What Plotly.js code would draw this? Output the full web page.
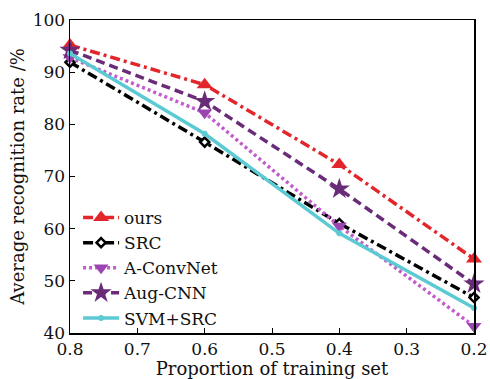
<!DOCTYPE html>
<html><head><meta charset="utf-8">
<script src="https://cdn.plot.ly/plotly-3.0.1.min.js"></script>
<style>body{margin:0;padding:0;background:#fff}#chart{width:490px;height:379px}</style>
</head><body><div id="chart"></div>
<script>
const xVals = [0.8, 0.6, 0.4, 0.2];
const seriesNames = ["ours", "SRC", "A-ConvNet", "Aug-CNN", "SVM+SRC"];
const ours = [95.2, 87.6, 72.3, 54.2];
const src = [91.9, 76.6, 61.0, 46.8];
const aconvnet = [92.8, 82.2, 60.5, 41.3];
const augcnn = [94.2, 84.4, 67.6, 49.4];
const svmsrc = [93.6, 78.2, 59.1, 44.8];
const xTicks = [0.8, 0.7, 0.6, 0.5, 0.4, 0.3, 0.2];
const yTicks = [40, 50, 60, 70, 80, 90, 100];

const styles = [
  {color:'#e3262b', dash:'10px,4px,3px,4px', width:3.5, symbol:'triangle-up', size:14, lcolor:'#e3262b'},
  {color:'#000000', dash:'10px,4px,3px,4px', width:3.5, symbol:'diamond', size:7, lcolor:'#000000'},
  {color:'#c25ccc', dash:'3px,3px', width:3.5, symbol:'triangle-down', size:13, lcolor:'#9b45b0'},
  {color:'#6a2c78', dash:'9px,5px', width:3.5, symbol:'star', size:16, lcolor:'#6a2c78'},
  {color:'#5ccad3', dash:'solid', width:3.5, symbol:'circle', size:6, lcolor:'#5ccad3'}
];
const data = [ours, src, aconvnet, augcnn, svmsrc];
const traces = data.map((y, i) => ({
  x: xVals, y: y, name: seriesNames[i], type: 'scatter', mode: 'lines+markers', cliponaxis: false,
  line: {color: styles[i].color, dash: styles[i].dash, width: styles[i].width},
  marker: {symbol: styles[i].symbol, size: styles[i].size,
    color: i === 1 ? '#ffffff' : styles[i].lcolor,
    line: {color: styles[i].lcolor, width: i === 1 ? 2.5 : 0}}
}));
const fam = 'DejaVu Serif, Liberation Serif, serif';
Plotly.newPlot('chart', traces, {
  width: 490, height: 379,
  margin: {l: 70, r: 16, t: 20, b: 46},
  paper_bgcolor: '#fff', plot_bgcolor: '#fff',
  font: {family: fam, color: '#111'},
  showlegend: true,
  legend: {x: 0.02, y: 0.425, xanchor: 'left', yanchor: 'top', bgcolor: 'rgba(0,0,0,0)',
    font: {family: fam, size: 17, color: '#111'}, tracegroupgap: 0, itemwidth: 36},
  xaxis: {range: [0.8, 0.2], tickvals: xTicks, ticktext: xTicks.map(v => v.toFixed(1)),
    ticks: 'inside', ticklen: 5, tickcolor: '#000', showline: true, linecolor: '#000', linewidth: 1.5,
    mirror: true, showgrid: false, zeroline: false, tickfont: {size: 17, family: fam},
    title: {text: 'Proportion of training set', font: {size: 18, family: fam}, standoff: 0}},
  yaxis: {range: [40, 100], tickvals: yTicks, ticks: 'inside', ticklen: 5, tickcolor: '#000',
    showline: true, linecolor: '#000', linewidth: 1.5, mirror: true, showgrid: false, zeroline: false,
    tickfont: {size: 17, family: fam},
    title: {text: 'Average recognition rate /%', font: {size: 18, family: fam}, standoff: 3}}
}, {displayModeBar: false, staticPlot: true});
</script></body></html>
